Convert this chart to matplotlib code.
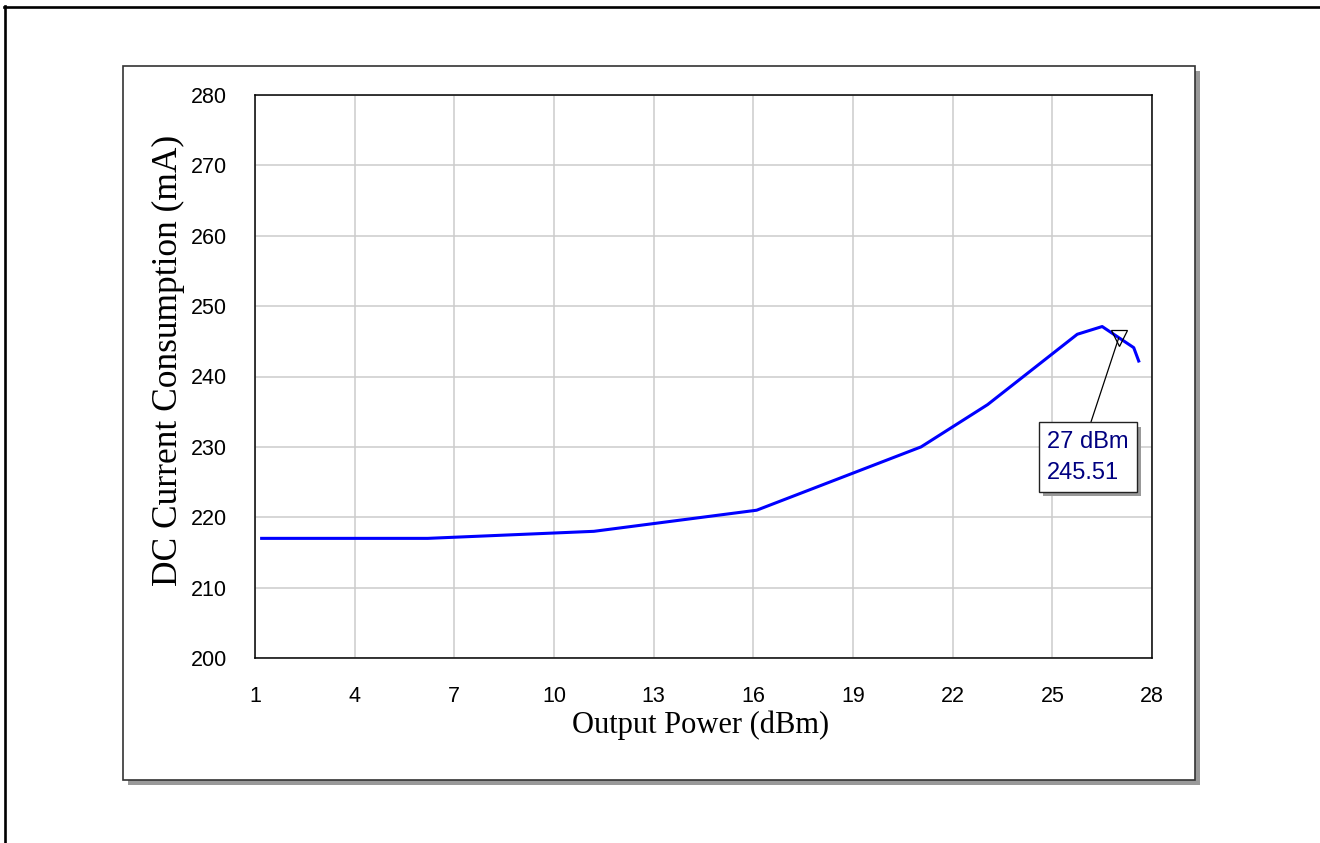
import matplotlib
matplotlib.use('Agg')
from matplotlib import pyplot as plt
from matplotlib.patches import Rectangle
from matplotlib.lines import Line2D
import matplotlib.patheffects as pe

# data
power = [1.2, 6.2, 11.2, 16.1, 21.05, 23.05, 25.75, 26.5, 27.45, 27.6]
current = [217.0, 217.0, 218.0, 221.0, 230.0, 236.0, 246.0, 247.1, 244.1, 242.2]
marker_x = 27
marker_y = 245.51
xticks = [1, 4, 7, 10, 13, 16, 19, 22, 25, 28]
yticks = [200, 210, 220, 230, 240, 250, 260, 270, 280]

fig = plt.figure(figsize=(13.2, 8.43), dpi=100)

# outer frame (only top and left visible)
fig.add_artist(Line2D([4.5/1320, 4.5/1320], [0, 1-6/843], color='k', lw=1.9, transform=fig.transFigure))
fig.add_artist(Line2D([4/1320, 1], [1-6.5/843, 1-6.5/843], color='k', lw=1.9, transform=fig.transFigure))

# inner panel with grey shadow
panel = Rectangle((123/1320, 63/843), 1072/1320, 714/843, transform=fig.transFigure,
                  facecolor='white', edgecolor='#333333', lw=1.2, zorder=0)
panel.set_path_effects([pe.SimplePatchShadow(offset=(3.5, -3.5), shadow_rgbFace='#999999', alpha=1), pe.Normal()])
fig.add_artist(panel)

ax = fig.add_axes([255/1320, 185/843, 897/1320, 563/843])
ax.set_facecolor('white')
ax.plot(power, current, color='#0000ff', lw=2.2, zorder=3)
ax.plot([marker_x], [marker_y], marker='v', markersize=12, fillstyle='none',
        markeredgecolor='k', markeredgewidth=0.9, linestyle='none', zorder=4)

ann = ax.annotate(f'{marker_x} dBm\n{marker_y:.2f}', xy=(marker_x, marker_y), xytext=(24.85, 232.3),
                  ha='left', va='top', color='#000080', fontsize=17, family='Liberation Sans',
                  linespacing=1.55,
                  bbox=dict(boxstyle='square,pad=0.35', fc='white', ec='#222222', lw=1),
                  arrowprops=dict(arrowstyle='-', color='k', lw=0.9, relpos=(0.5, 1.0),
                                  shrinkA=0, shrinkB=0), zorder=5)
ann.get_bbox_patch().set_path_effects([pe.SimplePatchShadow(offset=(3, -3), shadow_rgbFace='#999999', alpha=1), pe.Normal()])

ax.set_xlim(1, 28)
ax.set_ylim(200, 280)
ax.set_xticks(xticks)
ax.set_yticks(yticks)
ax.grid(True, color='#cccccc', lw=1.1)
ax.set_axisbelow(True)
ax.tick_params(length=0, pad=20, labelsize=15.5)
for lab in ax.get_xticklabels() + ax.get_yticklabels():
    lab.set_family('Liberation Sans')
for s in ax.spines.values():
    s.set_linewidth(1.1)

ax.set_xlabel('Output Power (dBm)', family='Liberation Serif', fontsize=22)
ax.set_ylabel('DC Current Consumption (mA)', family='Liberation Serif', fontsize=25.5)
ax.xaxis.set_label_coords(0.497, -0.094)
ax.yaxis.set_label_coords(-0.078, 0.529)

fig.savefig('out.png', dpi=100)
